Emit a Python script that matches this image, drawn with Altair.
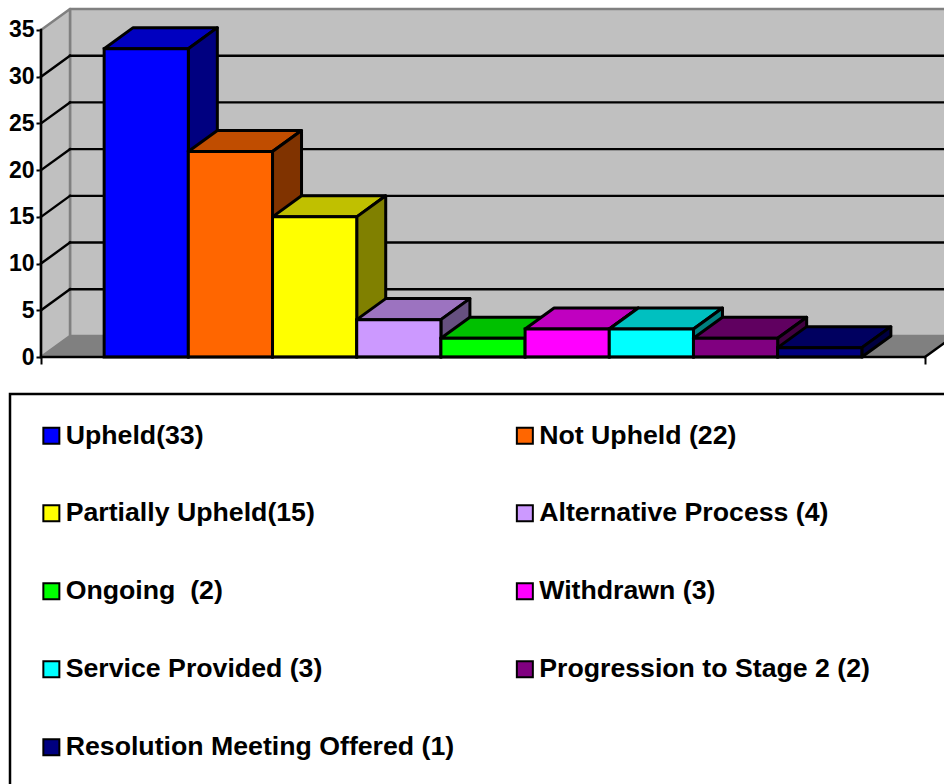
import altair as alt
import pandas as pd

# Complaint outcomes, one column per outcome
names = ["Upheld(33)", "Not Upheld (22)", "Partially Upheld(15)", "Alternative Process (4)",
         "Ongoing\u00a0 (2)", "Withdrawn (3)", "Service Provided (3)",
         "Progression to Stage 2 (2)", "Resolution Meeting Offered (1)"]
values = [33, 22, 15, 4, 2, 3, 3, 2, 1]

front_colors = ["#0000FF", "#FF6600", "#FFFF00", "#CC99FF", "#00FF00", "#FF00FF", "#00FFFF", "#800080", "#000080"]
top_colors = ["#0000C0", "#C04D00", "#C0C000", "#9C73C0", "#00C000", "#C000C0", "#00C0C0", "#600060", "#000060"]
side_colors = ["#000080", "#803300", "#808000", "#665080", "#008000", "#800080", "#008080", "#400040", "#000040"]

y_ticks = [0, 5, 10, 15, 20, 25, 30, 35]

# Pseudo-3D projection, in axis units: how far the back plane shifts
DX = 0.3445
DY = 2.25
X_MIN, X_MAX = -0.75, 9.75
PX_W, PX_H = 903, 357
INK = "black"
WALL_EDGE = "#808080"
FONT = "Liberation Sans"
EDGE = 3

x_scale = alt.Scale(domain=[X_MIN, X_MIN + PX_W / 84.19], nice=False, zero=False)
y_scale = alt.Scale(domain=[0, 38.21], nice=False, zero=False)
x_axis = alt.Axis(values=[X_MIN, X_MAX], labels=False, domain=False, grid=False, title=None,
                  ticks=True, tickSize=7, tickWidth=2, tickColor=INK)
y_axis = alt.Axis(values=y_ticks, domain=False, grid=False, ticks=True, tickSize=5, tickWidth=2, title=None,
                  tickColor=INK, labelFont=FONT, labelFontSize=23, labelFontWeight="bold",
                  labelColor=INK, labelPadding=2)
X = alt.X("x:Q", scale=x_scale, axis=x_axis, stack=None)
Y = alt.Y("y:Q", scale=y_scale, axis=y_axis, stack=None)


def upright(points, fill, stroke, width):
    """Parallelogram with two vertical edges; points are (x, low, high)."""
    df = pd.DataFrame(points, columns=["x", "y", "y2"])
    return alt.Chart(df).mark_area(fill=fill, stroke=stroke, strokeWidth=width, strokeJoin="round",
                                   opacity=1).encode(x=X, y=Y, y2="y2:Q")


def flat(points, fill, stroke, width):
    """Parallelogram with two horizontal edges; points are (y, left, right)."""
    df = pd.DataFrame(points, columns=["y", "x", "x2"])
    return alt.Chart(df).mark_area(orient="horizontal", fill=fill, stroke=stroke, strokeWidth=width,
                                   strokeJoin="round", opacity=1).encode(y=Y, x=X, x2="x2:Q")


def line(points, color, width):
    df = pd.DataFrame(points, columns=["x", "y"])
    return alt.Chart(df).mark_line(color=color, strokeWidth=width, strokeCap="square").encode(
        x=alt.X("x:Q", scale=x_scale, axis=x_axis, sort=None),
        y=alt.Y("y:Q", scale=y_scale, axis=y_axis, sort=None))


layers = []

# Legend frame, running off the right and bottom of the page
layers.append(alt.Chart(pd.DataFrame({"a": [0]})).mark_rect(fill="white", stroke=INK, strokeWidth=2.5).encode(
    x=alt.value(-31), x2=alt.value(960), y=alt.value(394), y2=alt.value(900)))

# Walls and floor
layers.append(upright([(X_MIN + DX, DY, 35 + DY), (X_MAX + DX, DY, 35 + DY)], "#C0C0C0", WALL_EDGE, 2.5))
layers.append(upright([(X_MIN, 0, 35), (X_MIN + DX, DY, 35 + DY)], "#C0C0C0", WALL_EDGE, 2.5))
layers.append(flat([(0, X_MIN, X_MAX), (DY, X_MIN + DX, X_MAX + DX)], "#808080", WALL_EDGE, 1))

# Gridlines across the back wall and down the side wall
for v in y_ticks[1:-1]:
    layers.append(line([(X_MIN + DX, v + DY), (X_MAX + DX, v + DY)], INK, 2.4))
    layers.append(line([(X_MIN, v), (X_MIN + DX, v + DY)], INK, 2.4))

# Columns, left to right so each one overlaps its neighbour's side
for i, (name, v) in enumerate(zip(names, values)):
    layers.append(flat([(v, i, i + 1), (v + DY, i + DX, i + 1 + DX)], top_colors[i], INK, EDGE))
    layers.append(upright([(i + 1, 0, v), (i + 1 + DX, DY, v + DY)], side_colors[i], INK, EDGE))
    front = pd.DataFrame({"x": [i], "x2": [i + 1], "y": [0], "y2": [v], "name": [name]})
    layers.append(alt.Chart(front).mark_rect(stroke=INK, strokeWidth=EDGE).encode(
        x=alt.X("x:Q", scale=x_scale, axis=x_axis), x2="x2:Q",
        y=alt.Y("y:Q", scale=y_scale, axis=y_axis), y2="y2:Q",
        color=alt.Color("name:N", title=None, scale=alt.Scale(domain=names, range=front_colors),
                        legend=alt.Legend(orient="none", legendX=-3, legendY=422, columns=2, direction="horizontal",
                                          gridAlign="each", columnPadding=56.5, rowPadding=50, padding=0,
                                          symbolType="square", symbolSize=256, symbolStrokeColor=INK,
                                          symbolStrokeWidth=2, symbolOpacity=1, labelFont=FONT, labelFontSize=26.7,
                                          labelFontWeight="bold", labelColor=INK, labelOffset=1,
                                          labelLimit=600))))

# Axis lines on top of the floor edges
layers.append(line([(X_MIN, 0), (X_MIN, 35)], INK, 2.5))
layers.append(line([(X_MIN, 0), (X_MAX, 0)], INK, 2.5))
layers.append(line([(X_MAX, 0), (X_MAX + DX, DY)], INK, 2.5))

chart = alt.layer(*layers).properties(
    width=PX_W, height=PX_H,
    padding={"left": 41, "top": 0, "right": 0, "bottom": 427},
    autosize=alt.AutoSizeParams(type="none"),
    background="white",
).configure_view(strokeWidth=0)

chart.save("out.html", embed_options={"renderer": "svg", "actions": False})
